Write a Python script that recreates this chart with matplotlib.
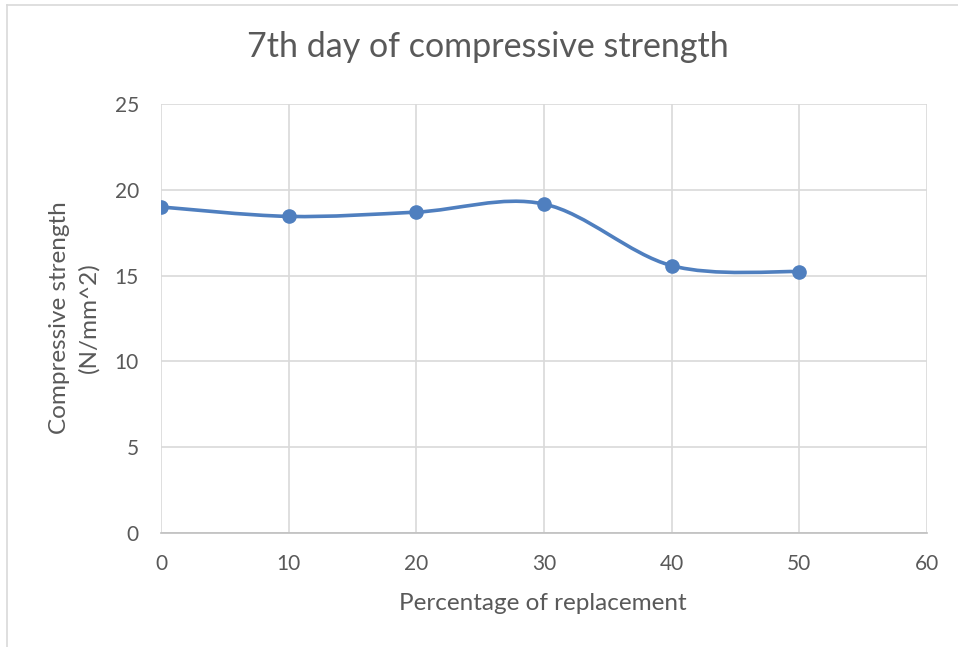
import matplotlib
matplotlib.use("Agg")
import matplotlib.pyplot as plt
from matplotlib.path import Path
from matplotlib.patches import PathPatch
from matplotlib.lines import Line2D
import numpy as np

replacement = [0, 10, 20, 30, 40, 50]
strength = [19.0, 18.45, 18.7, 19.17, 15.58, 15.23]
x_ticks = [0, 10, 20, 30, 40, 50, 60]
y_ticks = [0, 5, 10, 15, 20, 25]
title = "7th day of compressive strength"
x_label = "Percentage of replacement"
y_label_1 = "Compressive strength"
y_label_2 = "(N/mm^2)"

plt.rcParams['font.family'] = ['Lato', 'DejaVu Sans']
color = '#4f7fbf'
txt = '#595959'

fig = plt.figure(figsize=(9.58, 6.47), dpi=100)
W, H = 958, 647
ax = fig.add_axes([161 / W, 1 - 533 / H, (927 - 161) / W, (533 - 104) / H])

# Excel-style smoothed line via cubic Bezier segments
xs = np.array(replacement, float)
ys = np.array(strength, float)
n = len(xs)
verts = [(xs[0], ys[0])]
codes = [Path.MOVETO]
for i in range(n - 1):
    p0 = np.array([xs[max(i - 1, 0)], ys[max(i - 1, 0)]])
    p1 = np.array([xs[i], ys[i]])
    p2 = np.array([xs[i + 1], ys[i + 1]])
    p3 = np.array([xs[min(i + 2, n - 1)], ys[min(i + 2, n - 1)]])
    c1 = p1 + (p2 - p0) / 6
    c2 = p2 - (p3 - p1) / 6
    verts += [tuple(c1), tuple(c2), tuple(p2)]
    codes += [Path.CURVE4] * 3
ax.add_patch(PathPatch(Path(verts, codes), fill=False, edgecolor=color,
                       linewidth=2.6, capstyle='round', zorder=3))
ax.plot(replacement, strength, linestyle='none', marker='o', markersize=9.5,
        color=color, zorder=4)

ax.set_xlim(0, 60)
ax.set_ylim(0, 25)
ax.set_xticks(x_ticks)
ax.set_yticks(y_ticks)
ax.grid(True, color='#d9d9d9', linewidth=1.2)
ax.set_axisbelow(True)
for s in ['left', 'top', 'right']:
    ax.spines[s].set_visible(False)
ax.spines['bottom'].set_color('#bfbfbf')
ax.spines['bottom'].set_linewidth(1.2)
ax.tick_params(length=0, labelsize=15, labelcolor=txt)
ax.tick_params(axis='x', pad=15)
ax.tick_params(axis='y', pad=16)

fig.text(543 / W, 1 - 603 / H, x_label, ha='center', va='center', fontsize=17.5, color=txt)
fig.text(60 / W, 1 - 318 / H, y_label_1, ha='center', va='center', rotation=90,
         fontsize=17.5, color=txt)
fig.text(89 / W, 1 - 318 / H, y_label_2, ha='center', va='center', rotation=90,
         fontsize=17.5, color=txt)
fig.text(488 / W, 1 - 47 / H, title, ha='center', va='center', fontsize=24.5, color=txt)

fig.lines.append(Line2D([7 / W, 7 / W], [0, 1 - 4.5 / H], transform=fig.transFigure,
                        color='#d9d9d9', linewidth=1.2))
fig.lines.append(Line2D([7 / W, 1], [1 - 4.5 / H, 1 - 4.5 / H], transform=fig.transFigure,
                        color='#d9d9d9', linewidth=1.2))

fig.savefig('out.png', dpi=100)
